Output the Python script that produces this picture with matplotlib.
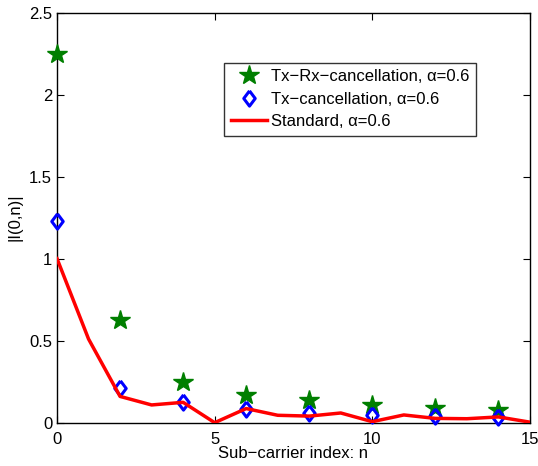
import matplotlib.pyplot as plt
import numpy as np

plt.rcParams['font.family'] = ['Liberation Sans', 'DejaVu Sans']
plt.rcParams['mathtext.fontset'] = 'dejavusans'

# data
n_std = np.arange(16)
standard = [1.0, 0.51, 0.16, 0.108, 0.124, 0.0, 0.086, 0.045, 0.04, 0.059,
            0.006, 0.047, 0.026, 0.024, 0.035, 0.003]

n_even = [0, 2, 4, 6, 8, 10, 12, 14]
tx_rx = [2.25, 0.627, 0.25, 0.17, 0.136, 0.108, 0.088, 0.08]
tx_only = [1.23, 0.214, 0.124, 0.086, 0.06, 0.047, 0.04, 0.035]

# matlab-like diamond (a bit narrower than tall)
diamond = [(0, 1), (0.75, 0), (0, -1), (-0.75, 0), (0, 1)]

fig = plt.figure(figsize=(5.38, 4.66), dpi=100)
ax = fig.add_axes([0.106, 0.093, 0.879, 0.880])

ax.plot(n_even, tx_rx, linestyle='none', marker='*', markersize=15,
        color='#007f00', label='Tx\u2212Rx\u2212cancellation, α=0.6',
        clip_on=False, zorder=3)
ax.plot(n_even, tx_only, linestyle='none', marker=diamond, markersize=11,
        markerfacecolor='none', markeredgecolor='#0000ff', markeredgewidth=2.2,
        label='Tx\u2212cancellation, α=0.6', clip_on=False, zorder=4)
ax.plot(n_std, standard, color='#ff0000', linewidth=2.5,
        label='Standard, α=0.6', zorder=5)

ax.set_xlim(0, 15)
ax.set_ylim(0, 2.5)
ax.set_xticks([0, 5, 10, 15])
ax.set_yticks([0, 0.5, 1, 1.5, 2, 2.5])
ax.set_xticklabels(['0', '5', '10', '15'])
ax.set_yticklabels(['0', '0.5', '1', '1.5', '2', '2.5'])
ax.tick_params(direction='in', top=True, right=True, labelsize=12, length=5)
ax.tick_params(axis='x', pad=7)
for s in ax.spines.values():
    s.set_linewidth(1.0)

ax.set_xlabel('Sub\u2212carrier index: n', fontsize=12, labelpad=-1)
ax.set_ylabel('|I(0,n)|', fontsize=12, labelpad=5)

leg = ax.legend(loc='upper right', bbox_to_anchor=(0.885, 0.878), fontsize=12,
                frameon=True, fancybox=False, edgecolor='black',
                borderpad=0.4, handlelength=2.2, labelspacing=0.45,
                handletextpad=0.2, borderaxespad=0)
leg.get_frame().set_linewidth(1.0)

fig.savefig('out.png', dpi=100)
